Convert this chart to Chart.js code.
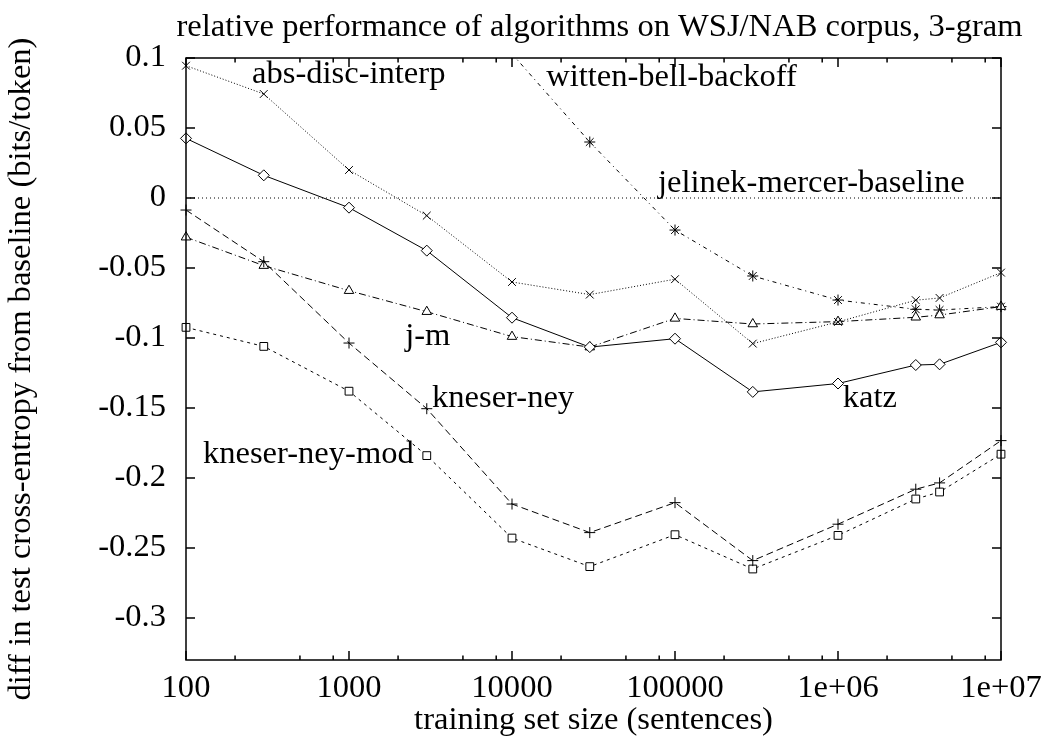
<!DOCTYPE html>
<html>
<head>
<meta charset="utf-8">
<script src="https://cdn.jsdelivr.net/npm/chart.js@4/dist/chart.umd.min.js"></script>
<style>
  html, body { margin: 0; padding: 0; background: #fff; }
  #wrap { width: 1046px; height: 742px; }
</style>
</head>
<body>
<div id="wrap"><canvas id="chart" width="1046" height="742"></canvas></div>
<script>
// training set sizes (sentences)
const sizes = [100, 300, 1000, 3000, 10000, 30000, 100000, 300000, 1000000, 3000000, 4200000, 10000000];

// diff in test cross-entropy from baseline (bits/token)
const katz          = [0.0426, 0.0162, -0.0069, -0.0376, -0.0855, -0.1065, -0.1005, -0.1385, -0.1325, -0.1193, -0.1188, -0.1031];
const absDiscInterp = [0.0945, 0.0743, 0.0200, -0.0126, -0.0600, -0.0690, -0.0580, -0.1040, -0.0885, -0.0730, -0.0714, -0.0533];
const kneserNey     = [-0.0086, -0.0455, -0.1036, -0.1505, -0.2186, -0.2390, -0.2176, -0.2590, -0.2330, -0.2080, -0.2035, -0.1733];
const kneserNeyMod  = [-0.0924, -0.1060, -0.1380, -0.1840, -0.2429, -0.2633, -0.2405, -0.2650, -0.2410, -0.2150, -0.2100, -0.1830];
const jelinekMercer = [-0.0280, -0.0483, -0.0662, -0.0812, -0.0990, -0.1065, -0.0860, -0.0900, -0.0883, -0.0852, -0.0836, -0.0776];
const wittenBell    = [null, null, null, null, 0.103, 0.0400, -0.0229, -0.0557, -0.0729, -0.0795, -0.0800, -0.0776];
const baseline      = [0, 0, 0, 0, 0, 0, 0, 0, 0, 0, 0, 0];

// axis ticks
const xTicks = [100, 1000, 10000, 100000, 1000000, 10000000];
const xTickLabels = ['100', '1000', '10000', '100000', '1e+06', '1e+07'];
const xMinorFactors = [2, 5, 8];
const yTicks = [0.1, 0.05, 0, -0.05, -0.1, -0.15, -0.2, -0.25, -0.3];
const yTickLabels = ['0.1', '0.05', '0', '-0.05', '-0.1', '-0.15', '-0.2', '-0.25', '-0.3'];

// curve labels placed in data coordinates (left edge, baseline)
const curveLabels = [
  { text: 'abs-disc-interp', x: 254, y: 0.0821 },
  { text: 'witten-bell-backoff', x: 16200, y: 0.0800 },
  { text: 'jelinek-mercer-baseline', x: 78700, y: 0.0043 },
  { text: 'j-m', x: 2210, y: -0.105 },
  { text: 'kneser-ney', x: 3230, y: -0.149 },
  { text: 'katz', x: 1070000, y: -0.149 },
  { text: 'kneser-ney-mod', x: 127, y: -0.189 }
];

const FONT = 'Liberation Serif';
const FSIZE = 31;
const STRETCH = 1.05;

function pts(arr) {
  return sizes.map((s, i) => ({ x: s, y: arr[i] }));
}

function wideText(ctx, text, x, y, align, baselineMode, rot) {
  ctx.save();
  ctx.translate(x, y);
  if (rot) ctx.rotate(rot);
  ctx.scale(STRETCH, 1);
  ctx.textAlign = align;
  ctx.textBaseline = baselineMode;
  ctx.fillText(text, 0, 0);
  ctx.restore();
}

// gnuplot-like frame, inward ticks and all text
const gnuplotFrame = {
  id: 'gnuplotFrame',
  afterDraw(chart) {
    const { ctx, chartArea: a, scales: { x, y } } = chart;
    ctx.save();
    ctx.strokeStyle = '#000';
    ctx.lineWidth = 1.5;
    ctx.setLineDash([]);
    ctx.strokeRect(a.left, a.top, a.right - a.left, a.bottom - a.top);

    ctx.beginPath();
    yTicks.forEach(v => {
      const py = y.getPixelForValue(v);
      ctx.moveTo(a.left, py); ctx.lineTo(a.left + 9, py);
      ctx.moveTo(a.right, py); ctx.lineTo(a.right - 9, py);
    });
    xTicks.forEach((v, i) => {
      const px = x.getPixelForValue(v);
      ctx.moveTo(px, a.bottom); ctx.lineTo(px, a.bottom - 9);
      ctx.moveTo(px, a.top); ctx.lineTo(px, a.top + 9);
      if (i < xTicks.length - 1) {
        xMinorFactors.forEach(f => {
          const pm = x.getPixelForValue(v * f);
          ctx.moveTo(pm, a.bottom); ctx.lineTo(pm, a.bottom - 4.5);
          ctx.moveTo(pm, a.top); ctx.lineTo(pm, a.top + 4.5);
        });
      }
    });
    ctx.stroke();

    ctx.fillStyle = '#000';
    ctx.font = FSIZE + 'px "' + FONT + '"';
    xTicks.forEach((v, i) => {
      wideText(ctx, xTickLabels[i], x.getPixelForValue(v), a.bottom + 29, 'center', 'middle');
    });
    yTicks.forEach((v, i) => {
      wideText(ctx, yTickLabels[i], a.left - 20, y.getPixelForValue(v), 'right', 'middle');
    });

    const cx = (a.left + a.right) / 2;
    wideText(ctx, 'relative performance of algorithms on WSJ/NAB corpus, 3-gram', cx + 6, 28, 'center', 'middle');
    wideText(ctx, 'training set size (sentences)', cx, 721, 'center', 'middle');
    wideText(ctx, 'diff in test cross-entropy from baseline (bits/token)', 22, (a.top + a.bottom) / 2 + 10, 'center', 'middle', -Math.PI / 2);

    curveLabels.forEach(l => {
      wideText(ctx, l.text, x.getPixelForValue(l.x), y.getPixelForValue(l.y), 'left', 'alphabetic');
    });
    ctx.restore();
  }
};

const common = {
  borderColor: '#000',
  borderWidth: 1,
  pointBorderColor: '#000',
  pointBorderWidth: 1,
  pointBackgroundColor: '#fff',
  tension: 0,
  fill: false,
  clip: false
};

new Chart(document.getElementById('chart').getContext('2d'), {
  type: 'line',
  data: {
    datasets: [
      { ...common, label: 'jelinek-mercer-baseline', data: pts(baseline), borderDash: [1, 3], pointRadius: 0 },
      { ...common, label: 'katz', data: pts(katz), pointStyle: 'rectRot', pointRadius: 5.5 },
      { ...common, label: 'abs-disc-interp', data: pts(absDiscInterp), borderDash: [1, 2], pointStyle: 'crossRot', pointRadius: 5.5 },
      { ...common, label: 'kneser-ney', data: pts(kneserNey), borderDash: [7, 4], pointStyle: 'cross', pointRadius: 5.5 },
      { ...common, label: 'kneser-ney-mod', data: pts(kneserNeyMod), borderDash: [3, 4], pointStyle: 'rect', pointRadius: 5.5 },
      { ...common, label: 'j-m', data: pts(jelinekMercer), borderDash: [7, 3, 1, 3], pointStyle: 'triangle', pointRadius: 5.5 },
      { ...common, label: 'witten-bell-backoff', data: pts(wittenBell), borderDash: [4, 4, 1, 4], pointStyle: 'star', pointRadius: 5.5,
        clip: { left: 10, top: 0, right: 10, bottom: 10 } }
    ]
  },
  options: {
    responsive: false,
    animation: false,
    events: [],
    layout: { padding: { top: 58, right: 45, left: 0, bottom: 0 } },
    plugins: {
      legend: { display: false },
      tooltip: { enabled: false }
    },
    scales: {
      x: {
        type: 'logarithmic',
        min: 100,
        max: 10000000,
        grid: { display: false, drawTicks: false },
        border: { display: false },
        ticks: { display: false },
        afterBuildTicks: s => { s.ticks = xTicks.map(v => ({ value: v })); },
        afterFit: s => { s.height = 82; }
      },
      y: {
        type: 'linear',
        min: -0.33,
        max: 0.1,
        grid: { display: false, drawTicks: false },
        border: { display: false },
        ticks: { display: false },
        afterBuildTicks: s => { s.ticks = yTicks.map(v => ({ value: v })); },
        afterFit: s => { s.width = 186; }
      }
    }
  },
  plugins: [gnuplotFrame]
});
</script>
</body>
</html>
